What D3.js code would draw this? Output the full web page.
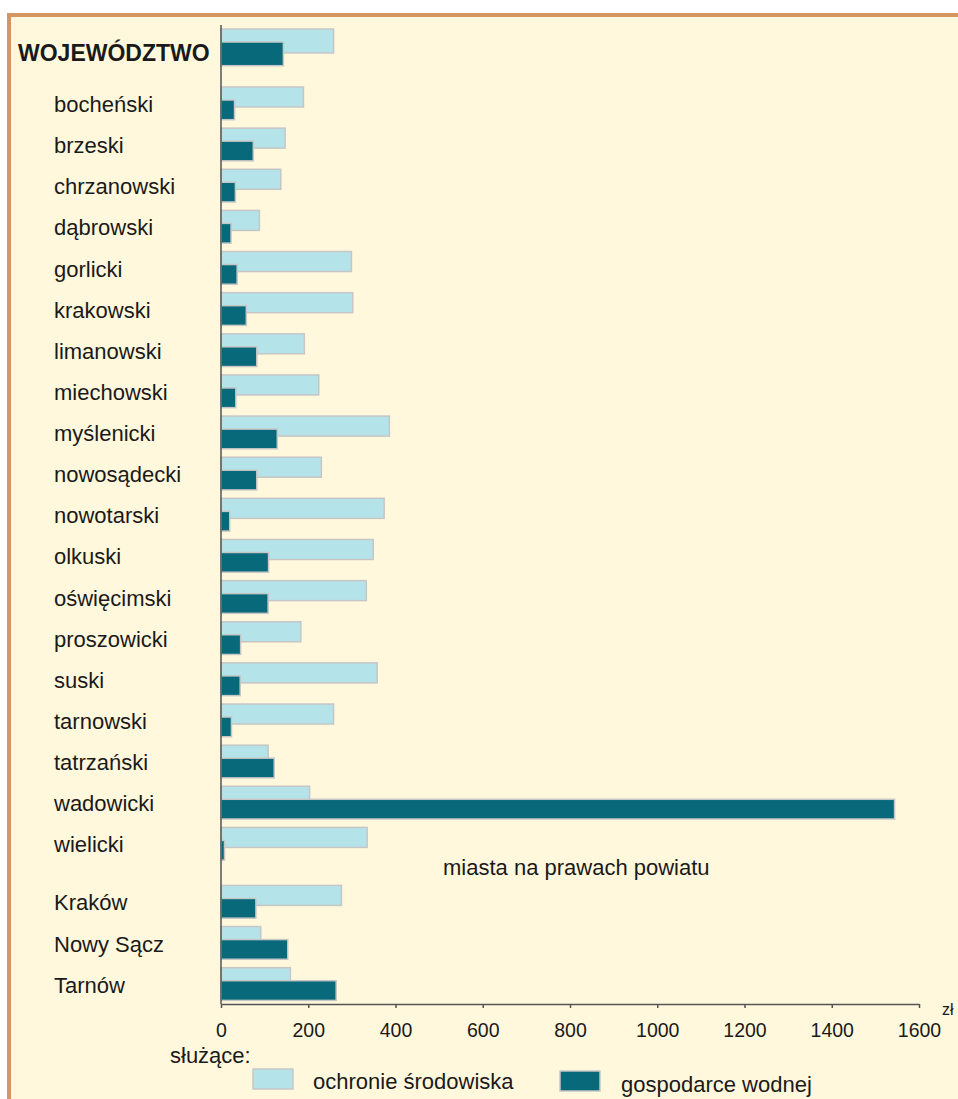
<!DOCTYPE html>
<html>
<head>
<meta charset="utf-8">
<style>
  body { margin: 0; background: #fff; }
  text { font-family: "Liberation Sans", Arial, sans-serif; fill: #1a1a1a; }
  .tick text { font-size: 19.5px; }
</style>
<script src="https://cdn.jsdelivr.net/npm/d3@7"></script>
</head>
<body>
<script>
// categories, in three groups (whole voivodeship, powiaty, cities)
var headRow = ["WOJEWÓDZTWO"];
var powiaty = ["bocheński", "brzeski", "chrzanowski", "dąbrowski", "gorlicki",
  "krakowski", "limanowski", "miechowski", "myślenicki", "nowosądecki",
  "nowotarski", "olkuski", "oświęcimski", "proszowicki", "suski",
  "tarnowski", "tatrzański", "wadowicki", "wielicki"];
var miasta = ["Kraków", "Nowy Sącz", "Tarnów"];

// values (zł), same order as above
var ochrona = [258, 189, 147, 137, 88, 299, 302, 191, 224, 386, 230, 374,
  349, 333, 183, 358, 258, 108, 203, 335, 276, 91, 159];
var wodna = [143, 31, 74, 33, 23, 37, 58, 82, 34, 129, 82, 20,
  109, 108, 45, 44, 24, 122, 1544, 8, 80, 153, 264];

var xTicks = [0, 200, 400, 600, 800, 1000, 1200, 1400, 1600];
var legendLabels = ["ochronie środowiska", "gospodarce wodnej"];

var W = 958, H = 1099;
var lightCol = "#b4e4e9", darkCol = "#07697a", edgeCol = "#c6c6c6";

// build rows with a slot value (extra gap between groups)
var groupGap = 0.41;
var rows = [];
[headRow, powiaty, miasta].forEach(function(g, gi) {
  g.forEach(function(name) {
    var i = rows.length;
    rows.push({ name: name, group: gi, slot: i + gi * groupGap,
                ochrona: ochrona[i], wodna: wodna[i] });
  });
});

var svg = d3.select("body").append("svg")
    .attr("width", W)
    .attr("height", H);

// panel background + orange frame (top and left)
svg.append("rect").attr("x", 7).attr("y", 13).attr("width", W).attr("height", H)
    .attr("fill", "#fff8dc");
svg.append("rect").attr("x", 7).attr("y", 13).attr("width", W).attr("height", 4)
    .attr("fill", "#d59662");
svg.append("rect").attr("x", 7).attr("y", 13).attr("width", 4).attr("height", H)
    .attr("fill", "#d59662");

var x = d3.scaleLinear().domain([0, 1600]).range([221, 919]);
var y = d3.scaleLinear()
    .domain([0, d3.max(rows, function(d) { return d.slot; })])
    .range([29, 967.7]);

function barH(d) { return d.group === 0 ? 24 : 20; }

// light bars (ochrona środowiska)
svg.append("g").selectAll("rect")
  .data(rows)
  .enter().append("rect")
    .attr("x", x(0))
    .attr("y", function(d) { return y(d.slot); })
    .attr("width", function(d) { return x(d.ochrona) - x(0); })
    .attr("height", barH)
    .attr("fill", lightCol)
    .attr("stroke", edgeCol)
    .attr("stroke-width", 1.5);

// dark bars (gospodarka wodna), drawn over the light ones
svg.append("g").selectAll("rect")
  .data(rows)
  .enter().append("rect")
    .attr("x", x(0))
    .attr("y", function(d) { return y(d.slot) + 13; })
    .attr("width", function(d) { return x(d.wodna) - x(0); })
    .attr("height", function(d) { return barH(d) - 0.3; })
    .attr("fill", darkCol)
    .attr("stroke", edgeCol)
    .attr("stroke-width", 1.5);

// category labels
svg.append("g").selectAll("text")
  .data(rows)
  .enter().append("text")
    .attr("x", function(d) { return d.group === 0 ? 18 : 54; })
    .attr("y", function(d) { return d.group === 0 ? y(d.slot) + 32 : y(d.slot) + 25; })
    .style("font-size", function(d) { return d.group === 0 ? "23px" : "22px"; })
    .style("font-weight", function(d) { return d.group === 0 ? "bold" : "normal"; })
    .text(function(d) { return d.name; });

// vertical axis line
svg.append("line")
    .attr("x1", x(0)).attr("x2", x(0))
    .attr("y1", 25).attr("y2", 1004)
    .attr("stroke", "#555").attr("stroke-width", 1.5);

// x axis
var xAxis = svg.append("g")
    .attr("transform", "translate(0,1004)")
    .call(d3.axisBottom(x).tickValues(xTicks).tickFormat(d3.format("d"))
      .tickSize(4).tickSizeOuter(0).tickPadding(15));
xAxis.select(".domain").attr("stroke", "#555").attr("stroke-width", 1.5);
xAxis.selectAll(".tick line").attr("stroke", "#555").attr("stroke-width", 1.5);
xAxis.selectAll(".tick text")
    .attr("fill", "#1a1a1a")
    .style("font-family", "'Liberation Sans', Arial, sans-serif")
    .style("font-size", "19.5px");

// unit, squeezed in at the right edge
svg.append("text").attr("x", 942).attr("y", 1015)
    .style("font-size", "16px").text("zł");

// group caption for cities
svg.append("text").attr("x", 443).attr("y", 875)
    .style("font-size", "22px").text("miasta na prawach powiatu");

// legend
svg.append("text").attr("x", 170).attr("y", 1063)
    .style("font-size", "22px").text("służące:");

var legend = svg.append("g").selectAll("g")
  .data(legendLabels)
  .enter().append("g");
legend.append("rect")
    .attr("x", function(d, i) { return i === 0 ? 253 : 560; })
    .attr("y", function(d, i) { return i === 0 ? 1069 : 1071; })
    .attr("width", 40).attr("height", 20)
    .attr("fill", function(d, i) { return i === 0 ? lightCol : darkCol; })
    .attr("stroke", edgeCol).attr("stroke-width", 1.5);
legend.append("text")
    .attr("x", function(d, i) { return i === 0 ? 313 : 621; })
    .attr("y", function(d, i) { return i === 0 ? 1089 : 1092; })
    .style("font-size", "22px")
    .text(function(d) { return d; });
</script>
</body>
</html>
